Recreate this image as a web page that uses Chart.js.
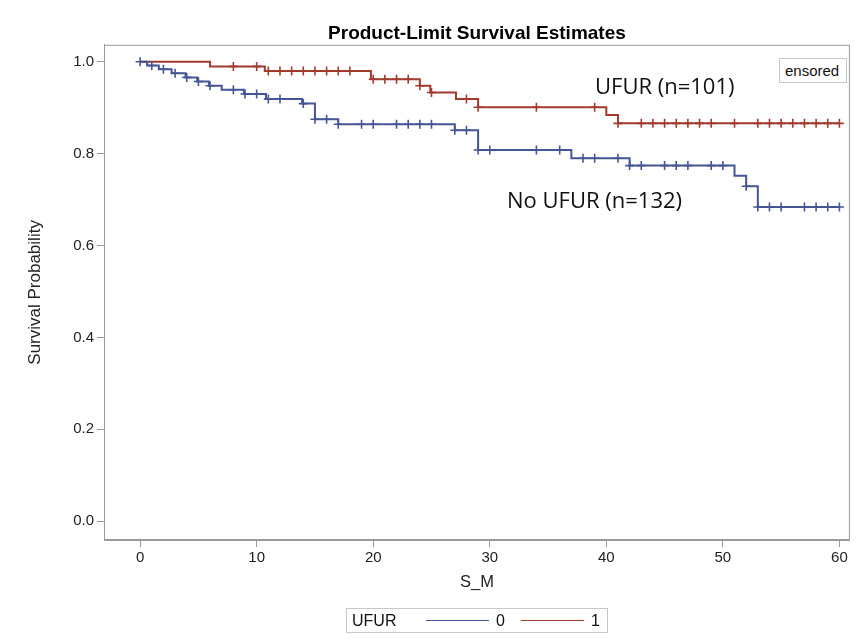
<!DOCTYPE html>
<html>
<head>
<meta charset="utf-8">
<script src="https://cdn.jsdelivr.net/npm/chart.js@4.4.1/dist/chart.umd.min.js"></script>
<style>
  html, body { margin: 0; padding: 0; background: #fff; }
  #wrap { position: relative; width: 856px; height: 643px; overflow: hidden; }
  #chart { position: absolute; left: 0; top: 0; }
  .note { position: absolute; font-family: "Open Sans", sans-serif; font-size: 22px; color: #111; white-space: nowrap; line-height: 1; }
  #cens { position: absolute; left: 779px; top: 58px; width: 68px; height: 25px; border: 1px solid #c8c8c8; background: #fff;
          font-family: "Liberation Sans", Arial, sans-serif; font-size: 15px; line-height: 23px; color: #111; padding-left: 5px; box-sizing: border-box; }
  #legend { position: absolute; left: 346px; top: 608px; width: 262px; height: 25px; border: 1px solid #c8c8c8; box-sizing: border-box;
            font-family: "Liberation Sans", Arial, sans-serif; font-size: 16px; color: #111; }
  #legend span { position: absolute; top: 3px; line-height: 18px; }
  #legend i { position: absolute; top: 11px; height: 0; border-top: 1.5px solid; }
</style>
</head>
<body>
<div id="wrap">
  <canvas id="chart" width="856" height="643"></canvas>
  <div class="note" style="left:595px; top:74px;">UFUR (n=101)</div>
  <div class="note" style="left:507px; top:188px;">No UFUR (n=132)</div>
  <div id="cens">ensored</div>
  <div id="legend">
    <span style="left:5px;">UFUR</span>
    <i style="left:79px; width:63px; border-color:#445694;"></i>
    <span style="left:149px;">0</span>
    <i style="left:174px; width:63px; border-color:#A23A2E;"></i>
    <span style="left:244px;">1</span>
  </div>
</div>
<script>
// UFUR = 0 (No UFUR, n=132): step times and survival after each step
var blueTimes = [0, 0.6, 1.6, 2.7, 3.9, 4.9, 5.9, 7.0, 8.9, 10.8, 13.9, 15.0, 17.0, 27.0, 29.0, 37.0, 42.0, 51.0, 52.0, 53.0, 60];
var blueSurv  = [1.0, 0.992, 0.984, 0.975, 0.966, 0.957, 0.948, 0.939, 0.930, 0.919, 0.909, 0.875, 0.864, 0.851, 0.808, 0.790, 0.774, 0.752, 0.729, 0.684, 0.684];
var blueCensor = [0, 1, 2, 3, 4, 5, 6, 8, 9, 10, 11, 12, 14, 15, 16, 17, 19, 20, 22, 23, 24, 25, 27, 28, 29, 30, 34, 36,
                  38, 39, 41, 42, 43, 45, 46, 47, 49, 50, 52, 53, 54, 55, 57, 58, 59, 60];

// UFUR = 1 (n=101)
var redTimes = [0, 6.0, 10.7, 19.8, 24.0, 24.9, 27.1, 29.0, 40.0, 41.0, 60];
var redSurv  = [1.0, 0.990, 0.980, 0.962, 0.948, 0.933, 0.919, 0.901, 0.884, 0.866, 0.866];
var redCensor = [8, 10, 11, 12, 13, 14, 15, 16, 17, 18, 20, 21, 22, 23, 24, 25, 28, 29, 34, 39, 41, 43, 44, 45, 46, 47,
                 48, 49, 51, 53, 54, 55, 56, 57, 58, 59, 60];

var xTicks = [0, 10, 20, 30, 40, 50, 60];
var yTicks = [0, 0.2, 0.4, 0.6, 0.8, 1.0];

var blue = '#445694';
var red = '#A23A2E';
var axisGray = '#9a9a9a';
var font = '"Liberation Sans", Arial, sans-serif';

var curve = function (times, surv) {
  return times.map(function (t, i) { return { x: t, y: surv[i] }; });
};

// survival level at time t (used to sit censor marks on the curve)
var levelAt = function (times, surv, t) {
  var s = surv[0];
  for (var i = 0; i < times.length; i++) {
    if (times[i] <= t) s = surv[i];
  }
  return s;
};

var marks = function (times, surv, cens) {
  return cens.map(function (t) { return { x: t, y: levelAt(times, surv, t) }; });
};

var framePlugin = {
  id: 'frame',
  beforeDatasetsDraw: function (chart) {
    var a = chart.chartArea, ctx = chart.ctx;
    ctx.save();
    ctx.strokeStyle = axisGray;
    ctx.lineWidth = 1;
    ctx.strokeRect(a.left + 0.5, a.top + 0.5, a.right - a.left - 1, a.bottom - a.top - 1);
    ctx.restore();
  }
};

var config = {
  type: 'line',
  data: {
    datasets: [{
      data: marks(blueTimes, blueSurv, blueCensor),
      showLine: false,
      pointStyle: 'cross',
      pointRadius: 4.5,
      pointBorderWidth: 1.6,
      borderColor: blue,
      backgroundColor: blue
    }, {
      data: curve(blueTimes, blueSurv),
      stepped: 'before',
      borderColor: blue,
      borderWidth: 2,
      pointRadius: 0
    }, {
      data: marks(redTimes, redSurv, redCensor),
      showLine: false,
      pointStyle: 'cross',
      pointRadius: 4.5,
      pointBorderWidth: 1.6,
      borderColor: red,
      backgroundColor: red
    }, {
      data: curve(redTimes, redSurv),
      stepped: 'before',
      borderColor: red,
      borderWidth: 2,
      pointRadius: 0
    }]
  },
  options: {
    responsive: false,
    animation: false,
    layout: {
      padding: { left: 0, right: 5, top: 0, bottom: 43 }
    },
    plugins: {
      legend: { display: false },
      tooltip: { enabled: false },
      title: {
        display: true,
        fullSize: false,
        text: 'Product-Limit Survival Estimates',
        color: '#000',
        font: { family: font, size: 19, weight: 'bold' },
        padding: { top: 22, bottom: 0 }
      }
    },
    scales: {
      x: {
        type: 'linear',
        min: -3.1,
        max: 60.9,
        afterFit: function (scale) { scale.height = 60; },
        afterBuildTicks: function (scale) {
          scale.ticks = xTicks.map(function (v) { return { value: v }; });
        },
        grid: { drawOnChartArea: false, drawTicks: true, tickLength: 7, color: axisGray },
        border: { display: true, color: axisGray },
        ticks: { color: '#222', font: { family: font, size: 15 }, padding: 2, maxRotation: 0 },
        title: { display: true, text: 'S_M', color: '#222', font: { family: font, size: 16.5 }, padding: { top: 0, bottom: 8 } }
      },
      y: {
        type: 'linear',
        min: -0.041,
        max: 1.037,
        afterFit: function (scale) { scale.width = 104; },
        afterBuildTicks: function (scale) {
          scale.ticks = yTicks.map(function (v) { return { value: v }; });
        },
        grid: { drawOnChartArea: false, drawTicks: true, tickLength: 7, color: axisGray },
        border: { display: true, color: axisGray },
        ticks: {
          color: '#222',
          font: { family: font, size: 15 },
          padding: 3,
          callback: function (v) { return v.toFixed(1); }
        },
        title: { display: true, text: 'Survival Probability', color: '#222', font: { family: font, size: 17 }, padding: { top: 25, bottom: 0 } }
      }
    }
  },
  plugins: [framePlugin]
};

window.onload = function () {
  var ctx = document.getElementById('chart').getContext('2d');
  window.kmChart = new Chart(ctx, config);
};
</script>
</body>
</html>
